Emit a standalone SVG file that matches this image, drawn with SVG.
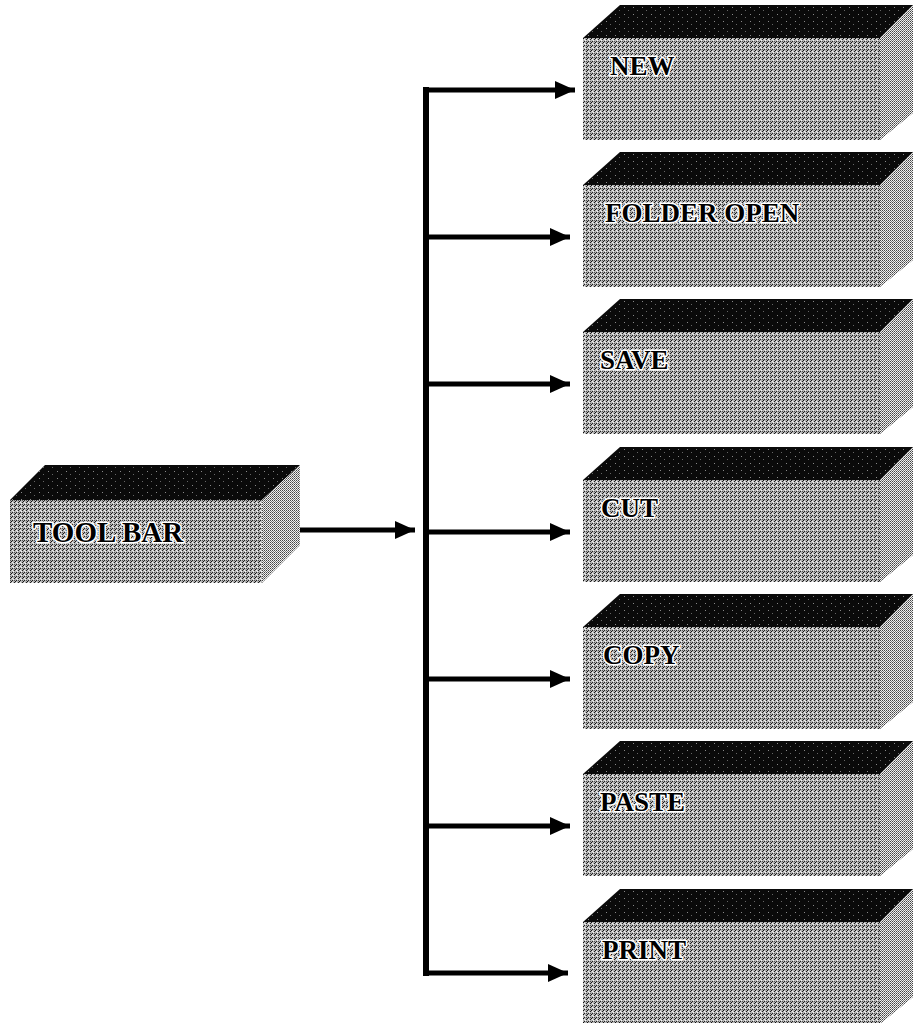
<svg xmlns="http://www.w3.org/2000/svg" width="915" height="1023" viewBox="0 0 915 1023">
<defs>
<pattern id="pFront" width="4" height="4" patternUnits="userSpaceOnUse">
<rect width="4" height="4" fill="#b4b4b4"/>
<rect x="0" y="0" width="1" height="1" fill="#222"/>
<rect x="2" y="0" width="1" height="1" fill="#555"/>
<rect x="3" y="1" width="1" height="1" fill="#111"/>
<rect x="2" y="2" width="1" height="1" fill="#222"/>
<rect x="1" y="3" width="1" height="1" fill="#f4f4f4"/>
<rect x="0" y="2" width="1" height="1" fill="#f0f0f0"/>
</pattern>
<pattern id="pSide" width="2" height="2" patternUnits="userSpaceOnUse">
<rect width="2" height="2" fill="#f0f0f0"/>
<rect x="0" y="0" width="1" height="1" fill="#444"/>
<rect x="1" y="1" width="1" height="1" fill="#777"/>
</pattern>
<pattern id="pTop" width="9" height="7" patternUnits="userSpaceOnUse">
<rect width="9" height="7" fill="#0a0a0a"/>
<rect x="3" y="2" width="1" height="1" fill="#888"/>
<rect x="7" y="5" width="1" height="1" fill="#666"/>
</pattern>
<marker id="ah" viewBox="0 0 20 18" refX="20" refY="9" markerWidth="20" markerHeight="18" markerUnits="userSpaceOnUse" orient="auto">
<path d="M0,0 L20,9 L0,18 Z" fill="#000"/>
</marker>
<style>
.top{fill:url(#pTop);}
.front{fill:url(#pFront);}
.side{fill:url(#pSide);}
.lbl{font-family:"Liberation Serif","Times New Roman",serif;font-weight:bold;font-size:27px;fill:#000;stroke:#fff;stroke-width:3;paint-order:stroke;stroke-linejoin:round;}
.big{font-size:29px;}
.ln{stroke:#000;stroke-width:6;fill:none;}
.arr{stroke:#000;stroke-width:5;fill:none;marker-end:url(#ah);}
</style>
</defs>
<rect width="915" height="1023" fill="#fff"/>

<g id="toolbar">
<polygon class="top" points="10,500 45,465 300,465 262,500"/>
<rect class="front" x="10" y="500" width="252" height="83"/>
<polygon class="side" points="262,500 300,465 300,545 262,583"/>
<text class="lbl big" x="33" y="542">TOOL BAR</text>
</g>

<g id="new" transform="translate(0,5)">
<polygon class="top" points="583,33 620,0 913,0 880,33"/>
<rect class="front" x="583" y="33" width="297" height="102"/>
<polygon class="side" points="880,33 913,0 913,108 880,135"/>
<text class="lbl" x="610" y="70">NEW</text>
</g>

<g id="folder-open" transform="translate(0,152)">
<polygon class="top" points="583,33 620,0 913,0 880,33"/>
<rect class="front" x="583" y="33" width="297" height="102"/>
<polygon class="side" points="880,33 913,0 913,108 880,135"/>
<text class="lbl" x="605" y="70">FOLDER OPEN</text>
</g>

<g id="save" transform="translate(0,299)">
<polygon class="top" points="583,33 620,0 913,0 880,33"/>
<rect class="front" x="583" y="33" width="297" height="102"/>
<polygon class="side" points="880,33 913,0 913,108 880,135"/>
<text class="lbl" x="600" y="70">SAVE</text>
</g>

<g id="cut" transform="translate(0,447)">
<polygon class="top" points="583,33 620,0 913,0 880,33"/>
<rect class="front" x="583" y="33" width="297" height="102"/>
<polygon class="side" points="880,33 913,0 913,108 880,135"/>
<text class="lbl" x="601" y="70">CUT</text>
</g>

<g id="copy" transform="translate(0,594)">
<polygon class="top" points="583,33 620,0 913,0 880,33"/>
<rect class="front" x="583" y="33" width="297" height="102"/>
<polygon class="side" points="880,33 913,0 913,108 880,135"/>
<text class="lbl" x="603" y="70">COPY</text>
</g>

<g id="paste" transform="translate(0,741)">
<polygon class="top" points="583,33 620,0 913,0 880,33"/>
<rect class="front" x="583" y="33" width="297" height="102"/>
<polygon class="side" points="880,33 913,0 913,108 880,135"/>
<text class="lbl" x="600" y="70">PASTE</text>
</g>

<g id="print" transform="translate(0,889)">
<polygon class="top" points="583,33 620,0 913,0 880,33"/>
<rect class="front" x="583" y="33" width="297" height="102"/>
<polygon class="side" points="880,33 913,0 913,108 880,135"/>
<text class="lbl" x="602" y="70">PRINT</text>
</g>

<g id="connectors">
<line class="arr" x1="300" y1="530" x2="415" y2="530"/>
<line class="ln" x1="426" y1="87" x2="426" y2="976"/>
<line class="arr" x1="423" y1="90" x2="575" y2="90"/>
<line class="arr" x1="426" y1="237" x2="570" y2="237"/>
<line class="arr" x1="426" y1="384" x2="570" y2="384"/>
<line class="arr" x1="426" y1="532" x2="570" y2="532"/>
<line class="arr" x1="426" y1="679" x2="570" y2="679"/>
<line class="arr" x1="426" y1="826" x2="570" y2="826"/>
<line class="arr" x1="423" y1="973" x2="568" y2="973"/>
</g>
</svg>
